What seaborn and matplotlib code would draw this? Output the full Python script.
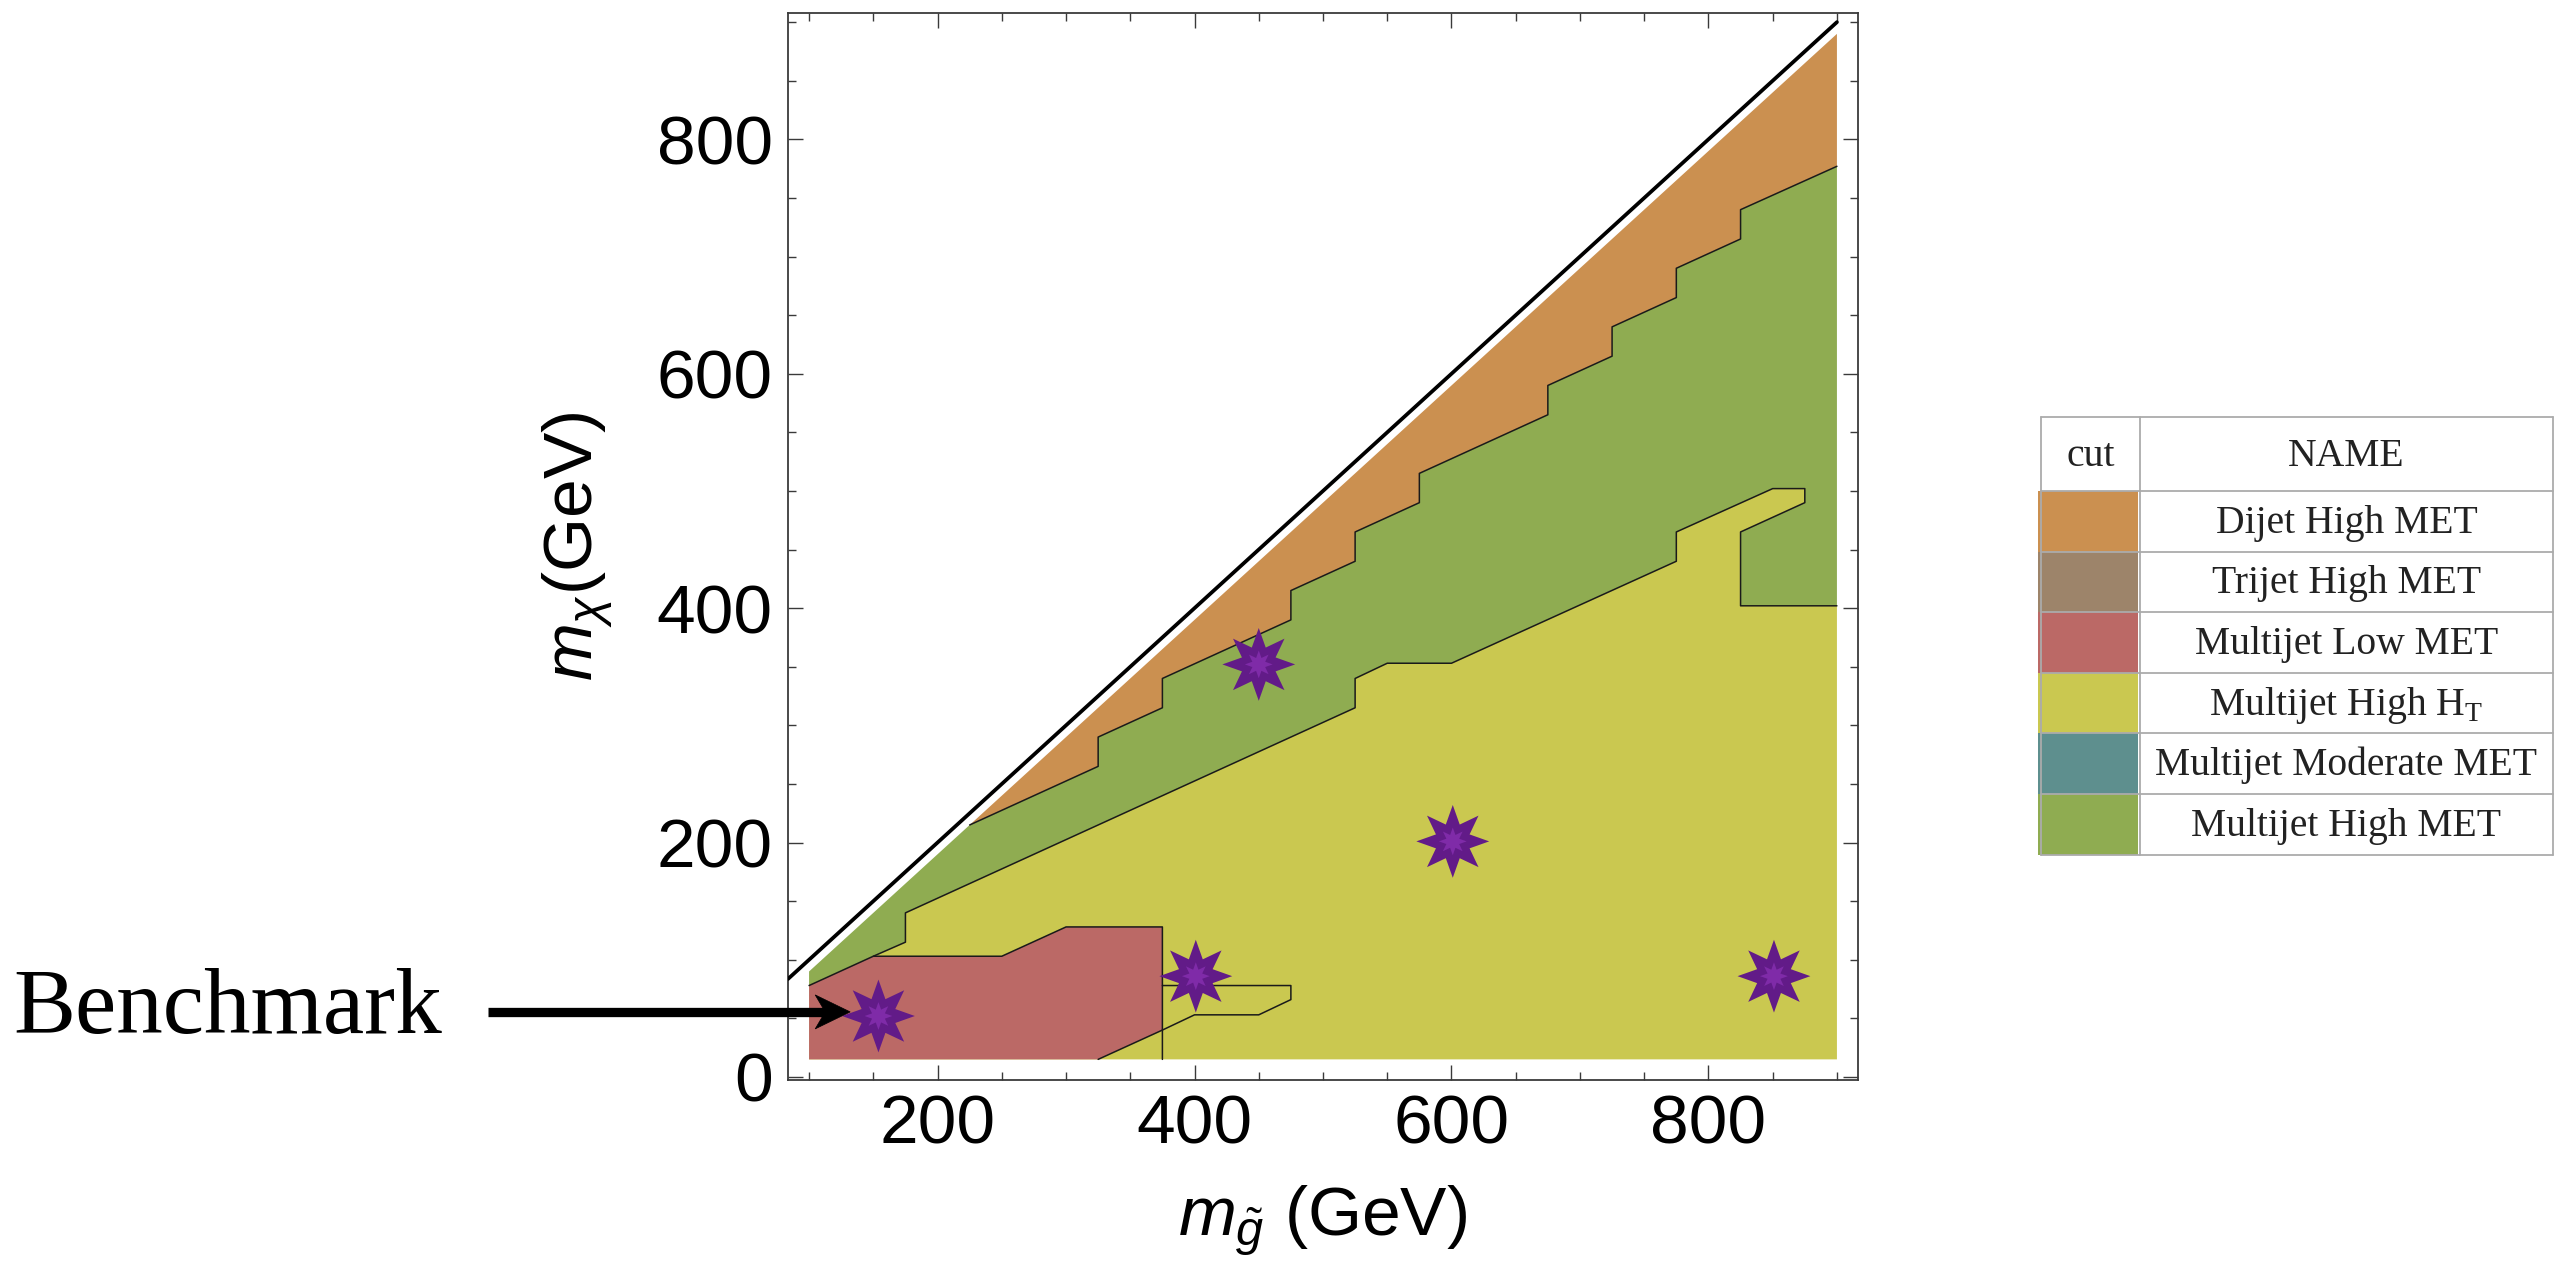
import numpy as np
import matplotlib
matplotlib.use("Agg")
import matplotlib.pyplot as plt
from matplotlib.path import Path
from matplotlib.markers import MarkerStyle
from matplotlib.patches import Rectangle, Polygon
from matplotlib.ticker import MultipleLocator
import seaborn as sns

# ---------------- data ----------------
cut_names = ["Dijet High MET", "Trijet High MET", "Multijet Low MET",
             r"Multijet High H$_{\mathrm{T}}$", "Multijet Moderate MET",
             "Multijet High MET"]
cut_colors = ["#CB9050", "#9D846A", "#BB6966", "#CAC850", "#5E8F8E", "#8FAC51"]

# kinematic edge  m_chi = m_gluino
kin_x = [83.6, 900]
kin_y = [83.6, 900]
# coloured regions stop at m_chi = m_gluino - 10
region_gap = 10
grid_x_max = 900
grid_y_min = 15

# Dijet High MET (orange): lower boundary, right to left
dijet_x = [900, 825, 825, 775, 775, 725, 725, 675, 675, 575, 575, 525, 525,
           475, 475, 375, 375, 325, 325, 225]
dijet_y = [777, 740, 715, 690, 665, 640, 615, 590, 565, 515, 490, 465, 440,
           415, 390, 340, 315, 290, 265, 215]

# Multijet High HT (yellow): upper boundary, left to right
ht_x = [100, 150, 175, 175, 525, 525, 550, 600, 775, 775, 850, 875, 875,
        825, 825, 900]
ht_y = [78, 103, 115, 140, 315, 340, 353, 353, 440, 465, 502, 502, 490,
        465, 402, 402]

# Multijet Low MET (red)
low_x = [100, 100, 150, 250, 300, 375, 375, 325]
low_y = [15, 78, 103, 103, 128, 128, 40, 15]

# inner contour inside the Multijet High HT region
inner_x = [375, 475, 475, 450, 400, 375, 375]
inner_y = [78, 78, 66, 53, 53, 40, 15]

# benchmark points
star_x = [154, 401, 450, 601, 851]
star_y = [52, 86, 352, 201, 86]
bench_x, bench_y = star_x[0], star_y[0]

# ---------------- style ----------------
sns.set_theme(style="white")
plt.rcParams["font.family"] = ["Liberation Sans", "DejaVu Sans"]
plt.rcParams["mathtext.fontset"] = "custom"
plt.rcParams["mathtext.it"] = "Liberation Sans:italic"
plt.rcParams["mathtext.rm"] = "Liberation Serif"
plt.rcParams["mathtext.sf"] = "Liberation Sans"

W, H = 2569, 1266
fig = plt.figure(figsize=(W / 100, H / 100), dpi=100)
fig.patch.set_facecolor("white")
ax = fig.add_axes([788 / W, (H - 1080) / H, (1858 - 788) / W, (1080 - 13) / H])
ax.set_facecolor("white")

x0, x1 = 83.6, 916.4
y0, y1 = -2.6, 907.8

# --- regions (fill, no outline) ---
def top_edge(xa, xb):
    return [xa, xb], [xa - region_gap, xb - region_gap]

# yellow
yx = ht_x + [grid_x_max, ht_x[0]]
yy = ht_y + [grid_y_min, grid_y_min]
ax.fill(yx, yy, color=cut_colors[3], lw=0, zorder=1)

# green
tx, ty = top_edge(ht_x[0], dijet_x[-1])
gx = tx + dijet_x[::-1] + ht_x[::-1]
gy = ty + dijet_y[::-1] + ht_y[::-1]
ax.fill(gx, gy, color=cut_colors[5], lw=0, zorder=1)

# orange
tx, ty = top_edge(dijet_x[-1], grid_x_max)
ax.fill(tx + dijet_x, ty + dijet_y, color=cut_colors[0], lw=0, zorder=1)

# red
ax.fill(low_x, low_y, color=cut_colors[2], lw=0, zorder=1)

# --- boundary lines ---
lc = "#1a1a1a"
blw = 1.1
ax.plot(dijet_x, dijet_y, color=lc, lw=blw, zorder=2)
ax.plot(ht_x, ht_y, color=lc, lw=blw, zorder=2)
ax.plot(low_x[2:], low_y[2:], color=lc, lw=blw, zorder=2)
ax.plot(inner_x, inner_y, color=lc, lw=blw, zorder=2)

# kinematic line
ax.plot(kin_x, kin_y, color="black", lw=2.7, solid_capstyle="round", zorder=3)

# --- stars ---
def star_path(n=8, inner=0.5):
    k = np.arange(2 * n)
    ang = np.pi / 2 + k * np.pi / n
    r = np.where(k % 2 == 0, 1.0, inner)
    v = np.c_[r * np.cos(ang), r * np.sin(ang)]
    v = np.vstack([v, v[0]])
    codes = [Path.MOVETO] + [Path.LINETO] * (2 * n - 1) + [Path.CLOSEPOLY]
    return Path(v, codes)

sns.scatterplot(x=star_x, y=star_y, marker=MarkerStyle(star_path(8, 0.5)), s=2750,
                color="#621B88", edgecolor="none", linewidth=0, ax=ax, zorder=5)
sns.scatterplot(x=star_x, y=star_y, marker=MarkerStyle(star_path(8, 0.5)), s=400,
                color="#7F2BA8", edgecolor="none", linewidth=0, ax=ax, zorder=6)

# --- axes / frame ---
ax.set_xlim(x0, x1)
ax.set_ylim(y0, y1)
ax.xaxis.set_major_locator(MultipleLocator(200))
ax.xaxis.set_minor_locator(MultipleLocator(50))
ax.yaxis.set_major_locator(MultipleLocator(200))
ax.yaxis.set_minor_locator(MultipleLocator(50))
for s in ax.spines.values():
    s.set_visible(True)
    s.set_color("#3a3a3a")
    s.set_linewidth(1.3)
ax.tick_params(which="both", direction="in", top=True, right=True,
               bottom=True, left=True, color="#3a3a3a", width=1.0)
ax.tick_params(which="major", length=10.5, labelsize=50)
ax.tick_params(which="minor", length=6)
ax.tick_params(axis="x", which="major", pad=10)
ax.tick_params(axis="y", which="major", pad=11)
for lab in ax.get_xticklabels() + ax.get_yticklabels():
    lab.set_color("black")
ax.grid(False)

ax.set_xlabel(r"$m_{\tilde{g}}$ (GeV)", fontsize=50, labelpad=18, color="black")
ax.set_ylabel(r"$m_{\chi}$(GeV)", fontsize=50, labelpad=30, color="black")

# --- overlay in figure pixels (y up) ---
ov = fig.add_axes([0, 0, 1, 1], facecolor="none")
ov.set_xlim(0, W)
ov.set_ylim(0, H)
ov.axis("off")

# benchmark arrow: tip just left of the benchmark star
tip_px, tip_py = ax.transData.transform((bench_x - 22, bench_y + 3.5))
ov.plot([488, tip_px - 24], [tip_py, tip_py], color="black", lw=6.7,
        solid_capstyle="butt", zorder=7)
ov.add_patch(Polygon([(tip_px, tip_py), (tip_px - 35, tip_py + 17),
                      (tip_px - 25, tip_py), (tip_px - 35, tip_py - 17)],
                     closed=True, facecolor="black", edgecolor="black",
                     lw=0.5, zorder=8))
ov.text(13, H - 1033, "Benchmark", fontsize=67,
        family=["Liberation Serif", "DejaVu Serif"], va="baseline", ha="left",
        color="black")

# --- legend table ---
t_left, t_div, t_right = 2041, 2140, 2553
row_edges = [417, 491, 552, 612, 673, 733, 794, 855]
gcol = "#ABABAB"
tfont = ["Liberation Serif", "DejaVu Serif"]
for i, (name, col) in enumerate(zip(cut_names, cut_colors)):
    top, bot = row_edges[i + 1], row_edges[i + 2]
    ov.add_patch(Rectangle((2038, H - bot), t_div - 2 - 2038, bot - top,
                           facecolor=col, edgecolor="none", zorder=1))
    ov.text((t_div + t_right) / 2, H - (top + bot) / 2 - 2, name, fontsize=28.5,
            family=tfont, ha="center", va="center", color="#222222", zorder=3)
for yv in row_edges:
    ov.plot([t_left, t_right], [H - yv, H - yv], color=gcol, lw=1.3, zorder=2)
for xv in [t_left, t_div, t_right]:
    ov.plot([xv, xv], [H - row_edges[0], H - row_edges[-1]], color=gcol, lw=1.3,
            zorder=2)
ov.text((t_left + t_div) / 2, H - (row_edges[0] + row_edges[1]) / 2 - 2, "cut",
        fontsize=28.5, family=tfont, ha="center", va="center", color="#222222")
ov.text((t_div + t_right) / 2, H - (row_edges[0] + row_edges[1]) / 2 - 2, "NAME",
        fontsize=28.5, family=tfont, ha="center", va="center", color="#222222")

fig.savefig("out.png", dpi=100, facecolor="white")
